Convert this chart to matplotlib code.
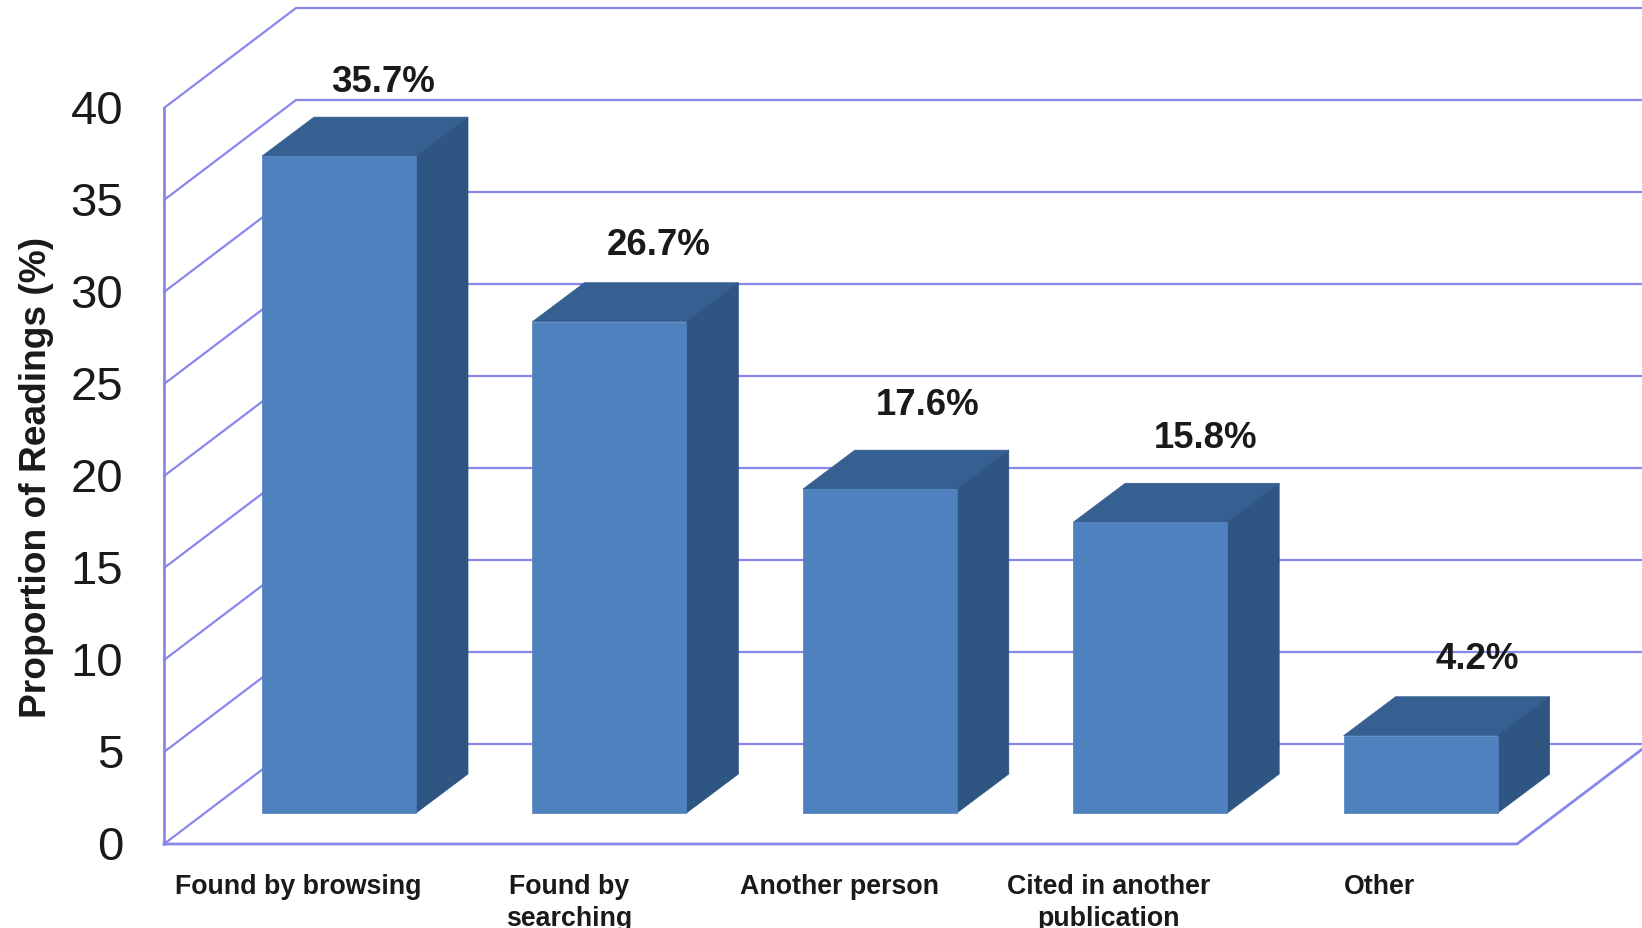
import numpy as np
import matplotlib
matplotlib.use("Agg")
import matplotlib.pyplot as plt

plt.rcParams['font.family'] = ['Liberation Sans', 'DejaVu Sans']

categories = ["Found by browsing", "Found by\nsearching", "Another person",
              "Cited in another\npublication", "Other"]
values = [35.7, 26.7, 17.6, 15.8, 4.2]
value_labels = ["35.7%", "26.7%", "17.6%", "15.8%", "4.2%"]
yticks = [0, 5, 10, 15, 20, 25, 30, 35, 40]

# scale of the picture, pixels per category and pixels per percent
W, H = 1642, 929
PX = 270.4
PY = 18.4
X0 = 339.0  # pixel x of first bar centre
Y0 = 845.0  # pixel y of value 0 on the front wall

GRID = "#8888ea"
FRONT = "#4f81bf"
SIDE = "#2f5582"
TOP = "#365f92"
TEXT = "#1a1a1a"

# depth of the walls and the bars, in data units
wall_dx = 132 / PX
wall_dy = 100 / PY
bar_dx = 52 / PX
bar_dy = 39 / PY
bar_w = 154 / PX
base = 31 / PY
floor_right = (1517 - X0) / PX
wall_left = (164 - X0) / PX

# label nudges in pixels
label_dx = [44, 49, 48, 55, 57]
label_dy = [36, 38, 46, 46, 38]
cat_dx = [-41, -40, -40, -42, -41]

fig = plt.figure(figsize=(W / 100, H / 100), dpi=100, facecolor="white")
ax = fig.add_axes([0, 0, 1, 1])
ax.set_xlim(-X0 / PX, (W - X0) / PX)
ax.set_ylim((Y0 - H) / PY, Y0 / PY)
ax.axis("off")

# walls and floor
for t in yticks:
    ax.plot([wall_left, wall_left + wall_dx, floor_right + wall_dx],
            [t, t + wall_dy, t + wall_dy], color=GRID, lw=1.6, zorder=1,
            solid_joinstyle="miter")
ax.plot([wall_left, wall_left], [0, yticks[-1]], color=GRID, lw=2, zorder=1)
ax.plot([wall_left, floor_right, floor_right + wall_dx], [0, 0, wall_dy],
        color=GRID, lw=2, zorder=1, solid_joinstyle="miter")

# bars
x = np.arange(len(values))
ax.bar(x, values, width=bar_w, bottom=base, color=FRONT, edgecolor=FRONT,
       linewidth=0.5, zorder=4)
for xi, v in zip(x, values):
    left = xi - bar_w / 2
    right = xi + bar_w / 2
    top = base + v
    ax.fill([left, right, right + bar_dx, left + bar_dx],
            [top, top, top + bar_dy, top + bar_dy], color=TOP, lw=0.5, zorder=3)
    ax.fill([right, right + bar_dx, right + bar_dx, right],
            [base, base + bar_dy, top + bar_dy, top], color=SIDE, lw=0.5, zorder=3)

for i, v in enumerate(values):
    ax.text(x[i] + label_dx[i] / PX, base + v + bar_dy + label_dy[i] / PY,
            value_labels[i], ha="center", va="center", fontsize=26.4,
            fontweight="bold", color=TEXT, zorder=5)
    ax.text(x[i] + cat_dx[i] / PX, -29 / PY, categories[i], ha="center", va="top",
            fontsize=19.3, fontweight="bold", color=TEXT, linespacing=1.3, zorder=5)

# y axis labels
for t in yticks:
    ax.text(wall_left - 41 / PX, t - 3 / PY, str(t), ha="right", va="center",
            fontsize=34, color=TEXT)
ax.text((36 - X0) / PX, (Y0 - 477) / PY, "Proportion of Readings (%)",
        rotation=90, ha="center", va="center", fontsize=26.7,
        fontweight="bold", color=TEXT)

fig.savefig("out.png", dpi=100)
